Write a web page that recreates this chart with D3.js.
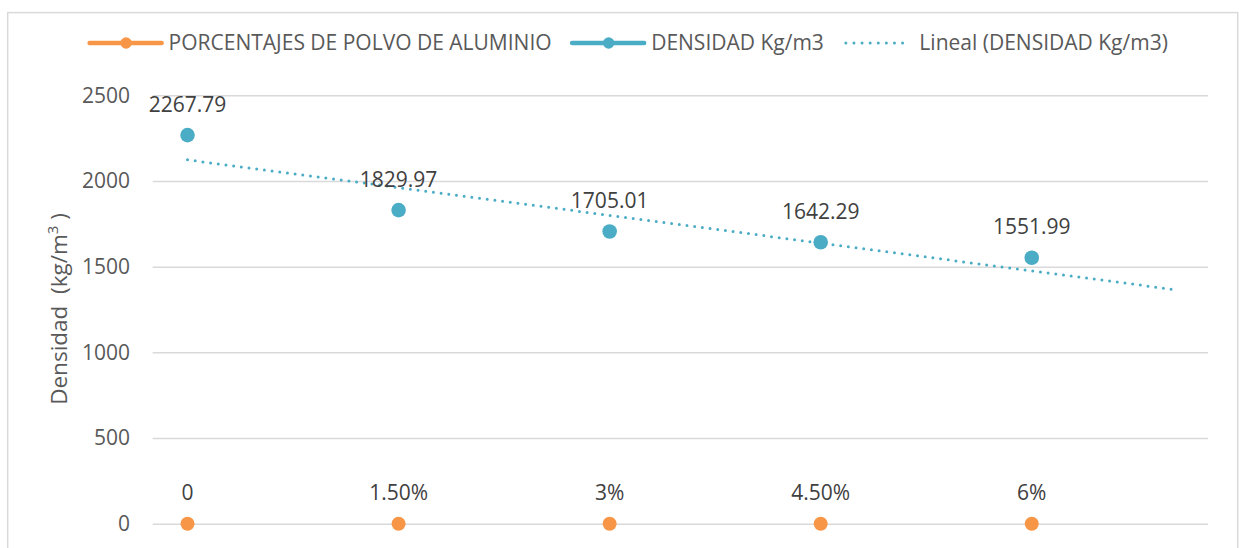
<!DOCTYPE html>
<html>
<head>
<meta charset="utf-8">
<script src="https://cdn.jsdelivr.net/npm/d3@7"></script>
<style>
  html, body { margin: 0; padding: 0; background: #fff; }
  svg { display: block; font-family: "Open Sans", sans-serif; }
</style>
</head>
<body>
<div id="chart"></div>
<script>
// chart values
const categories = ["0", "1.50%", "3%", "4.50%", "6%"];
const porcentajes = [0, 0, 0, 0, 0];
const densidad = [2267.79, 1829.97, 1705.01, 1642.29, 1551.99];
const yTicks = [0, 500, 1000, 1500, 2000, 2500];
const seriesNames = ["PORCENTAJES DE POLVO DE ALUMINIO", "DENSIDAD Kg/m3", "Lineal (DENSIDAD Kg/m3)"];
const trendForward = 0.67; // periods the trendline is forecast forward

/**
 * Layout / style.
 */
const width = 1239, height = 548;
const plot = { left: 152.7, right: 1208, top: 95.3, bottom: 523.7 };
const orange = "#F79646";
const blue = "#4BACC6";
const gridColor = "#D9D9D9";
const fontSize = 21;

const svg = d3.select("#chart")
  .append("svg")
    .attr("width", width)
    .attr("height", height);

// chart border
svg.append("rect")
  .attr("x", 7.7).attr("y", 12.6)
  .attr("width", 1237.7 - 7.7).attr("height", height)
  .attr("fill", "#fff")
  .attr("stroke", gridColor)
  .attr("stroke-width", 1.5);

const x = d3.scaleLinear().domain([-0.165, 4.835]).range([plot.left, plot.right]);
const y = d3.scaleLinear().domain([0, 2500]).range([plot.bottom, plot.top]);

// y axis + gridlines
const yAxis = svg.append("g")
  .attr("transform", `translate(${plot.left},0)`)
  .call(d3.axisLeft(y)
    .tickValues(yTicks)
    .tickSize(-(plot.right - plot.left))
    .tickPadding(22.7)
    .tickFormat(d3.format("d")));
yAxis.select(".domain").remove();
yAxis.selectAll("line")
  .attr("stroke", gridColor)
  .attr("stroke-width", 1.5);
yAxis.selectAll("text")
  .attr("fill", "#595959")
  .style("font-family", "'Open Sans', sans-serif")
  .style("font-size", fontSize + "px");

// y axis title
const yTitle = svg.append("text")
  .attr("transform", `translate(67,309) rotate(-90)`)
  .attr("text-anchor", "middle")
  .attr("fill", "#595959")
  .style("font-size", "22.5px");
yTitle.append("tspan").text("Densidad\u00a0\u00a0(kg/m");
yTitle.append("tspan").attr("dy", -9).style("font-size", "15px").text("3");
yTitle.append("tspan").attr("dy", 9).text("\u00a0)");

// linear trendline (least squares on the category index)
const n = densidad.length;
const xMean = d3.mean(densidad, (d, i) => i);
const yMean = d3.mean(densidad);
const slope = d3.sum(densidad, (d, i) => (i - xMean) * (d - yMean)) /
  d3.sum(densidad, (d, i) => (i - xMean) ** 2);
const intercept = yMean - slope * xMean;
const trendEnds = [0, n - 1 + trendForward];

svg.append("line")
  .attr("x1", x(trendEnds[0])).attr("y1", y(intercept + slope * trendEnds[0]))
  .attr("x2", x(trendEnds[1])).attr("y2", y(intercept + slope * trendEnds[1]))
  .attr("stroke", blue)
  .attr("stroke-width", 3)
  .attr("stroke-linecap", "round")
  .attr("stroke-dasharray", "0 7.75");

// series points + labels
const drawSeries = (values, color, r, labels) => {
  const g = svg.append("g");
  g.selectAll("circle")
    .data(values)
    .enter().append("circle")
      .attr("cx", (d, i) => x(i))
      .attr("cy", d => y(d))
      .attr("r", r)
      .attr("fill", color);
  g.selectAll("text")
    .data(values)
    .enter().append("text")
      .attr("x", (d, i) => x(i))
      .attr("y", d => y(d) - 23.3)
      .attr("text-anchor", "middle")
      .attr("fill", "#404040")
      .style("font-size", fontSize + "px")
      .text((d, i) => labels[i]);
};
drawSeries(porcentajes, orange, 7, categories);
drawSeries(densidad, blue, 7.3, densidad.map(d => d3.format(".2f")(d)));

// legend
const legendY = 43;
const legend = svg.append("g");
let cursor = 89.6;
seriesNames.forEach((name, i) => {
  const item = legend.append("g").attr("transform", `translate(${cursor},${legendY})`);
  if (i < 2) {
    const color = i === 0 ? orange : blue;
    item.append("line")
      .attr("x1", 0).attr("x2", 72)
      .attr("stroke", color)
      .attr("stroke-width", 4.5)
      .attr("stroke-linecap", "round");
    item.append("circle")
      .attr("cx", 36.5).attr("r", 5.7)
      .attr("fill", color);
  } else {
    item.append("line")
      .attr("x1", 1.5).attr("x2", 66)
      .attr("stroke", blue)
      .attr("stroke-width", 3)
      .attr("stroke-linecap", "round")
      .attr("stroke-dasharray", "0 8.1");
  }
  const label = item.append("text")
    .attr("x", i < 2 ? 79 : 75)
    .attr("dy", "0.35em")
    .attr("fill", "#595959")
    .style("font-size", fontSize + "px")
    .text(name);
  cursor += (i < 2 ? 79 : 75) + label.node().getComputedTextLength() + 20.5;
});
</script>
</body>
</html>
